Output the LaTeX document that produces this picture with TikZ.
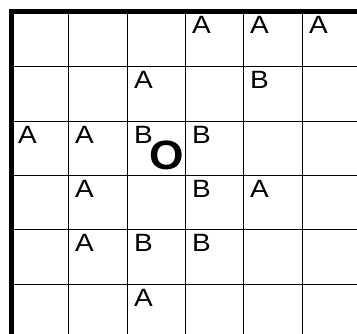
\documentclass[tikz,border=0pt]{standalone}
\usepackage{fontspec}
\setmainfont{Liberation Sans}
\newcommand{\wideletter}[1]{\scalebox{1.12}[1]{#1}}
\begin{document}
\begin{tikzpicture}[x=1pt,y=-1pt,
  thin grid/.style={line width=1.3pt,black},
  thick border/.style={line width=5pt,black,line join=miter},
  letter/.style={anchor=base west,inner sep=0pt,font=\fontsize{25pt}{25pt}\selectfont},
  bigmark/.style={inner sep=0pt,font=\fontsize{41pt}{41pt}\selectfont\bfseries}]
\fill[white] (0,0) rectangle (357,333);
\useasboundingbox (0,0) rectangle (357,333);
\clip (0,0) rectangle (357,333);
\foreach \x in {68.5,127.5,185.5,243.5,302.5} {
  \draw[thin grid] (\x,11.5) -- (\x,345);
}
\foreach \y in {66.5,121.5,175.5,229.5,284.5} {
  \draw[thin grid] (11.5,\y) -- (365,\y);
}
\draw[thick border] (11.5,345) -- (11.5,11.5) -- (365,11.5);
\foreach \c/\r/\t/\n in {3/0/A/a1,4/0/A/a2,5/0/A/a3,
  2/1/A/a4,4/1/B/b1,
  0/2/A/a5,1/2/A/a6,2/2/B/b2,3/2/B/b3,
  1/3/A/a7,3/3/B/b4,4/3/A/a8,
  1/4/A/a9,2/4/B/b5,3/4/B/b6,
  2/5/A/a10} {
  \pgfmathsetmacro{\lx}{{11.5,68.5,127.5,185.5,243.5,302.5}[\c]}
  \pgfmathsetmacro{\ly}{{11.5,66.5,121.5,175.5,229.5,284.5}[\r]}
  \node[letter] (\n) at (\lx+6.5,\ly+21.8) {\wideletter{\t}};
}
\node[bigmark] (o) at (166.5,155.5) {\scalebox{1.08}[1]{O}};
\end{tikzpicture}
\end{document}
